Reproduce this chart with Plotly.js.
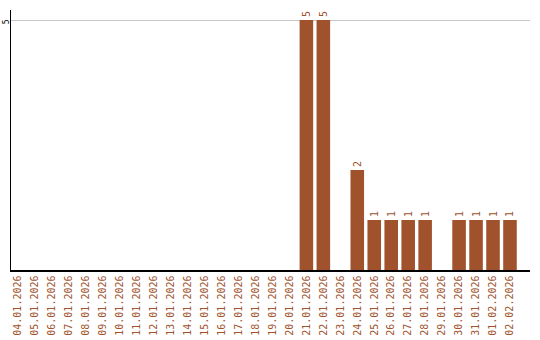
<!DOCTYPE html>
<html><head><meta charset="utf-8">
<script src="https://cdn.plot.ly/plotly-3.0.1.min.js"></script>
<style>html,body{margin:0;padding:0;background:#fff}#c{width:540px;height:340px}</style>
</head><body><div id="c"></div>
<script>
const dates = ["04.01.2026","05.01.2026","06.01.2026","07.01.2026","08.01.2026","09.01.2026","10.01.2026","11.01.2026","12.01.2026","13.01.2026","14.01.2026","15.01.2026","16.01.2026","17.01.2026","18.01.2026","19.01.2026","20.01.2026","21.01.2026","22.01.2026","23.01.2026","24.01.2026","25.01.2026","26.01.2026","27.01.2026","28.01.2026","29.01.2026","30.01.2026","31.01.2026","01.02.2026","02.02.2026"];
const counts = [0,0,0,0,0,0,0,0,0,0,0,0,0,0,0,0,0,5,5,0,2,1,1,1,1,0,1,1,1,1];
const yTicks = [5];

const brown = "#A0522D";
const font = "DejaVu Sans Mono, monospace";
Plotly.newPlot("c", [{
  type: "bar",
  x: dates,
  y: counts,
  marker: {color: brown},
  width: 0.8,
  text: counts.map(v => v > 0 ? String(v) : ""),
  textposition: "outside",
  textangle: -90,
  cliponaxis: false,
  textfont: {family: font, size: 10, color: brown},
  hoverinfo: "none"
}], {
  width: 540, height: 340,
  margin: {l: 11, r: 10, t: 10, b: 70},
  paper_bgcolor: "#fff", plot_bgcolor: "#fff",
  showlegend: false,
  xaxis: {
    type: "category",
    range: [-0.41, 30.18],
    showline: true, linecolor: "#000", linewidth: 1.5,
    showgrid: false, zeroline: false,
    tickangle: -90,
    ticks: "",
    tickfont: {family: font, size: 10, color: brown}
  },
  yaxis: {
    range: [0, 5.2],
    tickvals: yTicks,
    ticktext: yTicks.map(String),
    tickangle: -90,
    showline: true, linecolor: "#000", linewidth: 1.5,
    showgrid: true, gridcolor: "#c8c8c8", gridwidth: 1,
    zeroline: false,
    ticks: "",
    ticklabelstandoff: -3,
    ticklabelshift: 3,
    tickfont: {family: font, size: 8, color: "#000"}
  },
  bargap: 0.2
}, {displayModeBar: false, staticPlot: true});
</script>
</body></html>
